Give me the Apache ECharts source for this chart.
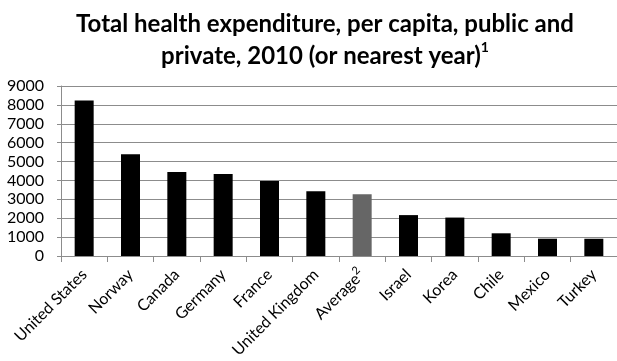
<!DOCTYPE html>
<html><head><meta charset="utf-8">
<script src="https://cdn.jsdelivr.net/npm/echarts@6/dist/echarts.min.js"></script>
<style>html,body{margin:0;padding:0;background:#fff}#c{width:617px;height:361px}</style>
</head><body><div id="c"></div>
<script>
var categories = ['United States','Norway','Canada','Germany','France','United Kingdom','Average','Israel','Korea','Chile','Mexico','Turkey'];
var values = [8233, 5388, 4445, 4338, 3974, 3433, 3268, 2165, 2035, 1202, 916, 913];
var highlight = 'Average';
var yTicks = [0,1000,2000,3000,4000,5000,6000,7000,8000,9000];

var chart = echarts.init(document.getElementById('c'), null, {renderer:'canvas'});
var font = 'Lato';
chart.setOption({
  animation: false,
  title: {
    text: 'Total health expenditure, per capita, public and\nprivate, 2010 (or nearest year){sup|1}',
    left: 320, top: 3, textAlign: 'center',
    textStyle: {
      fontFamily: font, fontWeight: 'bold', fontSize: 24, color: '#000', lineHeight: 32, align: 'center',
      rich: { sup: { fontFamily: font, fontWeight: 'bold', fontSize: 14, color: '#000', verticalAlign: 'top', lineHeight: 32, padding: [0,0,12,0] } }
    }
  },
  grid: { left: 61, right: -6, top: 86, bottom: 105, containLabel: false },
  xAxis: {
    type: 'category', data: categories,
    axisLine: { lineStyle: { color: '#8c8c8c', width: 1 } },
    axisTick: { show: true, length: 6, lineStyle: { color: '#8c8c8c' } },
    axisLabel: {
      rotate: 45, interval: 0, margin: 16, fontFamily: font, fontSize: 16, color: '#000',
      formatter: function (v) { return v === highlight ? 'Average{sup|2}' : v; },
      rich: { sup: { fontFamily: font, fontSize: 11, color: '#000', verticalAlign: 'top', padding: [0,0,11,0] } }
    }
  },
  yAxis: {
    type: 'value', min: yTicks[0], max: yTicks[yTicks.length-1], interval: 1000,
    axisLine: { show: true, lineStyle: { color: '#8c8c8c' } },
    axisTick: { show: true, length: 4, lineStyle: { color: '#8c8c8c' } },
    axisLabel: { fontFamily: font, fontSize: 16, color: '#000', margin: 17, formatter: function (v) { return String(v); } },
    splitLine: { lineStyle: { color: '#8c8c8c', width: 1.2 } }
  },
  series: [{
    type: 'bar', barWidth: 19,
    data: values.map(function (v, i) {
      return { value: v, itemStyle: { color: categories[i] === highlight ? '#666666' : '#000000' } };
    })
  }]
});
</script></body></html>
